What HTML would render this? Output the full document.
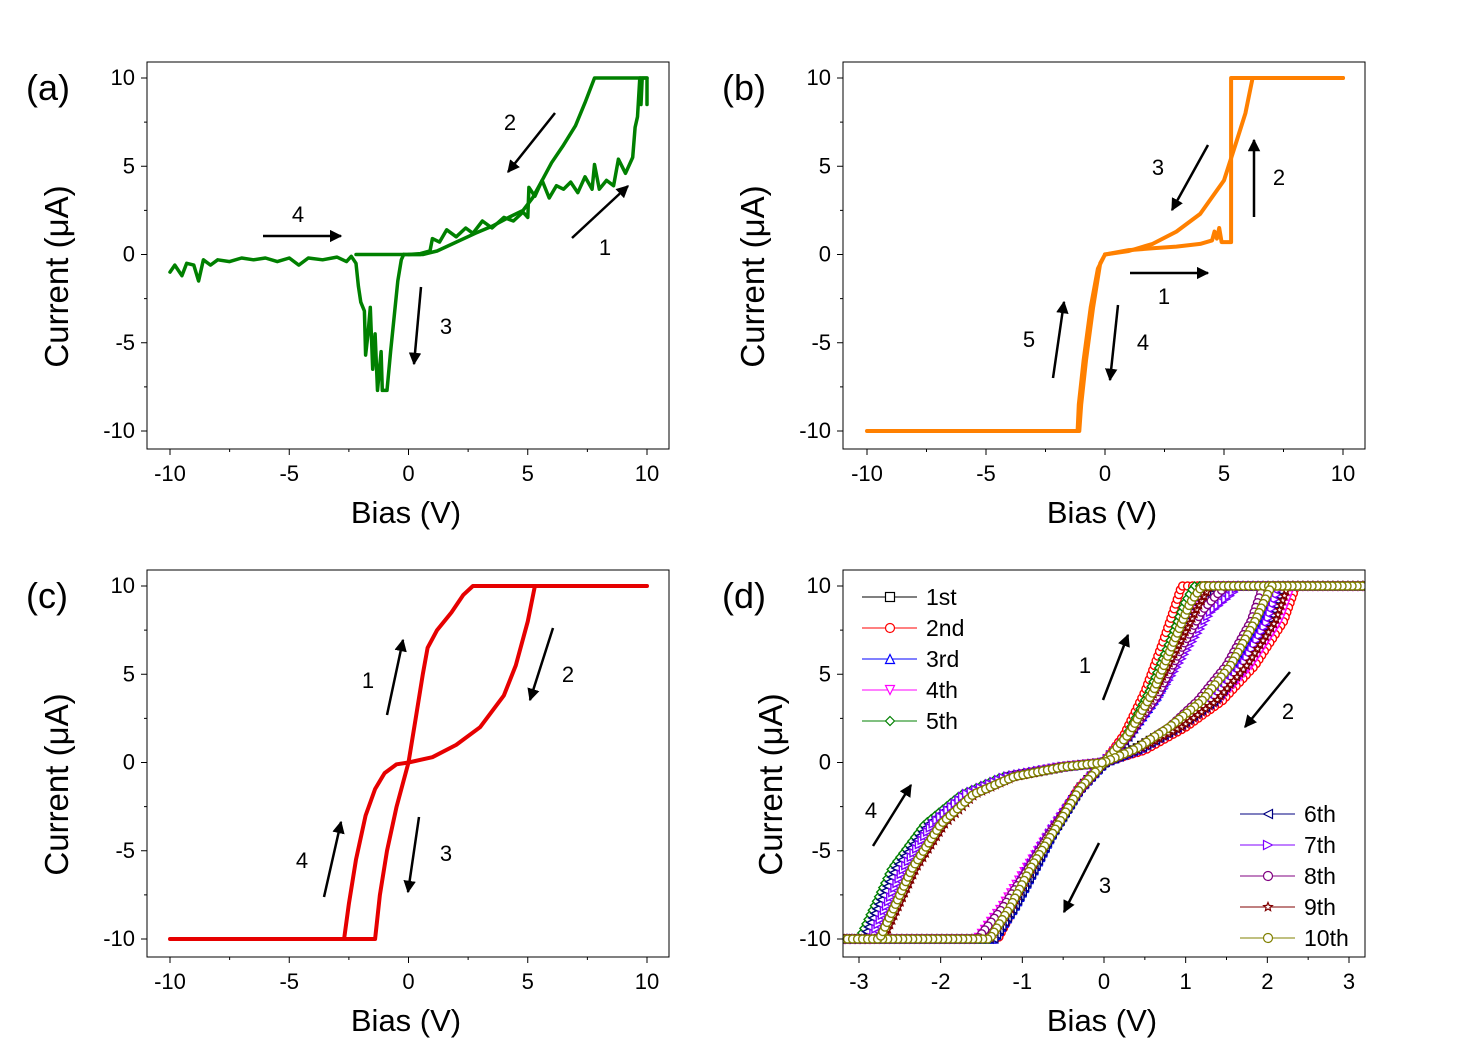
<!DOCTYPE html>
<html><head><meta charset="utf-8"><style>
html,body{margin:0;padding:0;background:#fff;}
svg{display:block;font-family:"Liberation Sans",Arial,sans-serif;}
</style></head><body>
<svg id="fig" width="1475" height="1050" viewBox="0 0 1475 1050" xmlns="http://www.w3.org/2000/svg">
<defs><marker id="ah" viewBox="0 0 10 10" refX="9" refY="5" markerWidth="5" markerHeight="5" orient="auto"><path d="M0,0 L10,5 L0,10 z" fill="#000"/></marker></defs>
</svg>
<script>
// ---------- data ----------
const majorTicksABC = [-10,-5,0,5,10];
const yTicks = [-10,-5,0,5,10];
const majorTicksD = [-3,-2,-1,0,1,2,3];
// panel a
const aBranch1 = [[0,0],[0.5,0.05],[0.9,0.2],[1.0,0.9],[1.3,0.7],[1.6,1.4],[2,1.0],[2.4,1.5],[2.7,1.2],[3.1,1.9],[3.5,1.5],[4,2.1],[4.4,1.9],[4.8,2.4],[5.0,2.1],[5.05,3.8],[5.3,3.3],[5.6,4.2],[5.9,3.2],[6.2,3.9],[6.5,3.7],[6.8,4.1],[7.1,3.5],[7.4,4.4],[7.7,3.7],[7.8,5.1],[8.0,3.7],[8.3,4.2],[8.6,3.9],[8.8,5.4],[9.1,4.6],[9.4,5.5],[9.5,7.2],[9.6,7.8],[9.7,10],[9.75,10],[9.75,8.5],[9.8,10],[10,10],[10,8.5]];
const aBranch2 = [[10,10],[7.8,10],[7.4,8.6],[7,7.3],[6.5,6.2],[6,5.2],[5.6,4.2],[5.2,3.2],[4.8,2.5],[4.2,2.1],[3.5,1.6],[2.8,1.2],[2,0.7],[1.2,0.2],[0.6,0],[0,0],[-0.2,0]];
const aBranch3 = [[-0.2,0],[-0.3,-0.3],[-0.45,-1.5],[-0.6,-3.5],[-0.75,-5.5],[-0.9,-7.7],[-1.1,-7.7],[-1.15,-5.5],[-1.3,-7.7],[-1.4,-4.5],[-1.5,-6.5],[-1.6,-3.0],[-1.7,-4.5],[-1.8,-5.7],[-1.85,-3.2],[-2.0,-2.7],[-2.1,-1.8],[-2.2,-0.5],[-2.4,-0.1],[-2.6,-0.4],[-3,-0.15],[-3.6,-0.3],[-4.2,-0.2],[-4.6,-0.6],[-5,-0.2],[-5.5,-0.4],[-6,-0.2],[-6.5,-0.3],[-7,-0.2],[-7.5,-0.4],[-8,-0.3],[-8.3,-0.6],[-8.6,-0.3],[-8.8,-1.5],[-9,-0.6],[-9.3,-0.5],[-9.5,-1.2],[-9.8,-0.6],[-10,-1.0]];
const aBranch4 = [[-2.2,0],[0.5,0],[0.9,0.2]];
// panel b
const bForward = [[0,0],[1,0.25],[2,0.35],[3,0.45],[4,0.6],[4.5,0.8],[4.6,1.3],[4.7,0.9],[4.8,1.5],[4.9,0.7],[5.3,0.7],[5.3,10],[10,10]];
const bReturn = [[10,10],[6.2,10],[5.9,8],[5.5,6.3],[5,4.2],[4,2.3],[3,1.3],[2,0.6],[1,0.2],[0,0]];
const bNeg = [[0,0],[-0.2,-0.5],[-0.5,-3],[-0.8,-6],[-1.0,-8.5],[-1.08,-10],[-10,-10],[-1.15,-10],[-1.1,-8.5],[-0.9,-6],[-0.6,-3],[-0.3,-0.8],[0,0]];
// panel c
const cForward = [[0,0],[0.3,2.5],[0.6,5],[0.8,6.5],[1.2,7.5],[1.8,8.5],[2.3,9.5],[2.7,10],[10,10]];
const cReturn = [[5.3,10],[5,8],[4.5,5.5],[4,3.8],[3,2],[2,1],[1,0.3],[0,0]];
const cNeg = [[0,0],[-0.5,-2.5],[-0.9,-5],[-1.2,-7.5],[-1.4,-10],[-10,-10],[-2.7,-10],[-2.5,-8],[-2.2,-5.5],[-1.8,-3],[-1.4,-1.5],[-1,-0.6],[-0.5,-0.1],[0,0]];
// panel d cycles
const cycleNames = ["1st","2nd","3rd","4th","5th","6th","7th","8th","9th","10th"];
const cycle1 = [[0,0],[0.3,1.6],[0.6,4],[0.85,6.8],[1.05,9],[1.2,10],[3.2,10],[2.1,10],[1.9,8],[1.6,5.5],[1.25,3.5],[0.85,2],[0.4,0.8],[0,0],[-0.3,-1.5],[-0.6,-3.8],[-0.9,-6],[-1.15,-8.2],[-1.4,-10],[-3.2,-10],[-2.8,-10],[-2.65,-8.5],[-2.4,-6],[-2.05,-3.5],[-1.65,-1.8],[-1.15,-0.8],[-0.5,-0.25],[0,0]];
const cycle2 = [[0,0],[0.25,1.6],[0.5,4],[0.72,6.8],[0.88,9],[0.95,10],[3.2,10],[2.35,10],[2.2,8],[1.85,5.5],[1.45,3.5],[1.0,2],[0.5,0.7],[0,0],[-0.3,-1.4],[-0.6,-3.6],[-0.85,-6],[-1.1,-8.2],[-1.3,-10],[-3.2,-10],[-2.85,-10],[-2.7,-8.5],[-2.45,-6],[-2.1,-3.5],[-1.7,-1.8],[-1.2,-0.8],[-0.55,-0.25],[0,0]];
const cycle3 = [[0,0],[0.3,1.5],[0.65,3.8],[0.95,6.5],[1.25,8.8],[1.5,9.6],[1.6,10],[3.2,10],[2.1,10],[1.95,8],[1.65,5.5],[1.3,3.5],[0.9,2],[0.45,0.8],[0,0],[-0.3,-1.5],[-0.6,-3.7],[-0.85,-6],[-1.1,-8.2],[-1.35,-10],[-3.2,-10],[-2.9,-10],[-2.75,-8.5],[-2.5,-6],[-2.1,-3.5],[-1.7,-1.8],[-1.2,-0.8],[-0.55,-0.25],[0,0]];
const cycle4 = [[0,0],[0.3,1.5],[0.6,3.8],[0.9,6.5],[1.15,8.8],[1.3,10],[3.2,10],[2.3,10],[2.15,8],[1.8,5.5],[1.4,3.5],[0.95,2],[0.45,0.7],[0,0],[-0.3,-1.6],[-0.65,-3.9],[-0.95,-6],[-1.25,-8.2],[-1.55,-10],[-3.2,-10],[-2.8,-10],[-2.65,-8.5],[-2.4,-6],[-2.05,-3.5],[-1.65,-1.8],[-1.15,-0.8],[-0.5,-0.25],[0,0]];
const cycle5 = [[0,0],[0.28,1.6],[0.55,4],[0.8,6.8],[0.98,9],[1.1,10],[3.2,10],[2.0,10],[1.85,8],[1.55,5.5],[1.2,3.5],[0.85,2],[0.4,0.8],[0,0],[-0.3,-1.5],[-0.6,-3.7],[-0.9,-6],[-1.15,-8.2],[-1.4,-10],[-3.2,-10],[-3.0,-10],[-2.85,-8.5],[-2.6,-6],[-2.2,-3.5],[-1.75,-1.8],[-1.25,-0.8],[-0.55,-0.25],[0,0]];
const cycle6 = [[0,0],[0.3,1.5],[0.6,3.8],[0.9,6.5],[1.15,8.8],[1.3,10],[3.2,10],[2.2,10],[2.05,8],[1.7,5.5],[1.35,3.5],[0.9,2],[0.45,0.8],[0,0],[-0.3,-1.5],[-0.6,-3.7],[-0.85,-6],[-1.1,-8.2],[-1.35,-10],[-3.2,-10],[-2.95,-10],[-2.8,-8.5],[-2.55,-6],[-2.15,-3.5],[-1.72,-1.8],[-1.22,-0.8],[-0.55,-0.25],[0,0]];
const cycle7 = [[0,0],[0.3,1.4],[0.65,3.6],[1.0,6.3],[1.3,8.5],[1.55,9.5],[1.65,10],[3.2,10],[2.15,10],[2.0,8],[1.7,5.5],[1.32,3.5],[0.9,2],[0.45,0.8],[0,0],[-0.3,-1.6],[-0.65,-3.9],[-0.95,-6.2],[-1.2,-8.3],[-1.5,-10],[-3.2,-10],[-2.85,-10],[-2.7,-8.5],[-2.45,-6],[-2.1,-3.5],[-1.7,-1.8],[-1.2,-0.8],[-0.55,-0.25],[0,0]];
const cycle8 = [[0,0],[0.3,1.5],[0.65,3.8],[0.95,6.5],[1.2,8.6],[1.4,9.6],[1.5,10],[3.2,10],[1.95,10],[1.8,8],[1.5,5.5],[1.15,3.5],[0.8,2],[0.4,0.8],[0,0],[-0.3,-1.6],[-0.65,-3.9],[-0.95,-6.2],[-1.25,-8.3],[-1.55,-10],[-3.2,-10],[-2.75,-10],[-2.6,-8.5],[-2.35,-6],[-2.0,-3.5],[-1.6,-1.8],[-1.1,-0.8],[-0.5,-0.25],[0,0]];
const cycle9 = [[0,0],[0.3,1.5],[0.6,3.8],[0.9,6.5],[1.15,8.8],[1.3,10],[3.2,10],[2.25,10],[2.1,8],[1.75,5.5],[1.38,3.5],[0.95,2],[0.45,0.8],[0,0],[-0.3,-1.5],[-0.6,-3.7],[-0.88,-6],[-1.13,-8.2],[-1.4,-10],[-3.2,-10],[-2.7,-10],[-2.55,-8.5],[-2.3,-6],[-1.95,-3.5],[-1.58,-1.8],[-1.1,-0.8],[-0.5,-0.25],[0,0]];
const cycle10 = [[0,0],[0.3,1.6],[0.6,4],[0.85,6.8],[1.05,9],[1.2,10],[3.2,10],[2.05,10],[1.85,8],[1.55,5.5],[1.2,3.5],[0.8,2],[0.4,0.8],[0,0],[-0.3,-1.5],[-0.6,-3.8],[-0.9,-6],[-1.15,-8.2],[-1.4,-10],[-3.2,-10],[-2.75,-10],[-2.6,-8.5],[-2.35,-6],[-2.0,-3.5],[-1.6,-1.8],[-1.1,-0.8],[-0.5,-0.25],[0,0]];
const cycles = [cycle1,cycle2,cycle3,cycle4,cycle5,cycle6,cycle7,cycle8,cycle9,cycle10];

// ---------- rendering ----------
const NS="http://www.w3.org/2000/svg";
const svg=document.getElementById('fig');
function el(tag,attrs,parent){const e=document.createElementNS(NS,tag);for(const k in attrs)e.setAttribute(k,attrs[k]);(parent||svg).appendChild(e);return e;}
function mk(x0,x1,v0,v1){return v=>x0+(v-v0)*(x1-x0)/(v1-v0);}

const colors=["#000000","#ff0000","#0000ff","#ff00ff","#008000","#000080","#8000ff","#800080","#800000","#808000"];
const shapes=["square","circle","up","down","diamond","left","right","circle","star","circle"];

function panel(cfg){
  const g=el('g',{});
  
  
  cfg.sx=mk(cfg.px0,cfg.px1,cfg.xv0,cfg.xv1);
  cfg.sy=mk(cfg.py0,cfg.py1,-10,10);
  cfg.g=g;
  const clip=el('clipPath',{id:'clip-'+cfg.id},g);
  el('rect',{x:cfg.L,y:cfg.T,width:cfg.R-cfg.L,height:cfg.B-cfg.T},clip);
  cfg.plot=el('g',{'clip-path':'url(#clip-'+cfg.id+')'},g);
  
  
  return cfg;
}
function frame(cfg){
  const g=cfg.g;
  const r=el('rect',{x:cfg.L,y:cfg.T,width:cfg.R-cfg.L,height:cfg.B-cfg.T,fill:'none',stroke:'#000','stroke-width':1},g);
  
  
  const xa=el('g',{},g);
  
  
  cfg.xticks.forEach(v=>{
    const x=cfg.sx(v);
    el('line',{x1:x,x2:x,y1:cfg.B,y2:cfg.B+6,stroke:'#000','stroke-width':1},xa);
    const t=el('text',{x:x,y:cfg.B+32,'font-size':22,'text-anchor':'middle'},xa);
    t.textContent=v<0?'-'+Math.abs(v):String(v);
    
    
  });
  for(let i=0;i<cfg.xticks.length-1;i++){const x=cfg.sx((cfg.xticks[i]+cfg.xticks[i+1])/2);el('line',{x1:x,x2:x,y1:cfg.B,y2:cfg.B+3,stroke:'#000'},xa);}
  const ya=el('g',{},g);
  
  
  yTicks.forEach(v=>{
    const y=cfg.sy(v);
    el('line',{x1:cfg.L-6,x2:cfg.L,y1:y,y2:y,stroke:'#000'},ya);
    const t=el('text',{x:cfg.L-12,y:y+7,'font-size':22,'text-anchor':'end'},ya);
    t.textContent=v<0?'-'+Math.abs(v):String(v);
    
    
  });
  for(let i=0;i<yTicks.length-1;i++){const y=cfg.sy((yTicks[i]+yTicks[i+1])/2);el('line',{x1:cfg.L-3,x2:cfg.L,y1:y,y2:y,stroke:'#000'},ya);}
  const xt=el('text',{x:(cfg.L+cfg.R)/2-2,y:cfg.B+74,'font-size':31,'text-anchor':'middle'},g);
  xt.textContent='Bias (V)';
  
  
  const cy=(cfg.T+cfg.B)/2+21;
  const yt=el('text',{x:0,y:0,'font-size':33,'text-anchor':'middle',transform:`translate(${cfg.ytx},${cy}) rotate(-90)`},g);
  yt.textContent='Current (μA)';
  
  
  const pl=el('text',{x:cfg.L-121,y:cfg.T+38,'font-size':36},g);
  pl.textContent='('+cfg.id+')';
  
  
}
function curve(cfg,pts,color,w,name){
  const d=pts.map((p,i)=>(i?'L':'M')+cfg.sx(p[0]).toFixed(1)+','+cfg.sy(p[1]).toFixed(1)).join(' ');
  const p=el('path',{d:d,fill:'none',stroke:color,'stroke-width':w,'stroke-linejoin':'round','stroke-linecap':'round'},cfg.plot);
  
  
  return p;
}
function marker(parent,x,y,shape,color,s,sw){
  let m;
  const a={fill:'#fff',stroke:color,'stroke-width':sw||1};
  if(shape==='square') m=el('rect',Object.assign({x:x-s,y:y-s,width:2*s,height:2*s},a),parent);
  else if(shape==='circle') m=el('circle',Object.assign({cx:x,cy:y,r:s},a),parent);
  else {
    let pts;
    if(shape==='up') pts=[[0,-s],[s,s],[-s,s]];
    else if(shape==='down') pts=[[0,s],[s,-s],[-s,-s]];
    else if(shape==='left') pts=[[-s,0],[s,-s],[s,s]];
    else if(shape==='right') pts=[[s,0],[-s,-s],[-s,s]];
    else if(shape==='diamond') pts=[[0,-s],[s,0],[0,s],[-s,0]];
    else { pts=[];for(let i=0;i<10;i++){const r=i%2?s*0.45:s;const ang=-Math.PI/2+i*Math.PI/5;pts.push([r*Math.cos(ang),r*Math.sin(ang)]);} }
    m=el('polygon',Object.assign({points:pts.map(p=>(x+p[0]).toFixed(1)+','+(y+p[1]).toFixed(1)).join(' ')},a),parent);
  }
  return m;
}
function arrow(g,x1,y1,x2,y2,label,lx,ly){
  const l=el('line',{x1:x1,y1:y1,x2:x2,y2:y2,stroke:'#000','stroke-width':2.5,'marker-end':'url(#ah)'},g);
  
  
  const t=el('text',{x:lx,y:ly,'font-size':22,'text-anchor':'middle'},g);
  t.textContent=label;
  
  
}

// Panel a
const A=panel({id:'a',L:147,R:669,T:62,B:449,px0:170,px1:647,xv0:-10,xv1:10,py0:431,py1:78,xticks:majorTicksABC,ytx:68});
curve(A,aBranch4,'#008000',3.5,'curve-a-zero');
curve(A,aBranch3,'#008000',3.5,'curve-a-negative');
curve(A,aBranch2,'#008000',3.5,'curve-a-return');
curve(A,aBranch1,'#008000',3.5,'curve-a-forward');
frame(A);
arrow(A.g,572,238,628,186,'1',605,255);
arrow(A.g,555,113,508,172,'2',510,130);
arrow(A.g,421,287,414,364,'3',446,334);
arrow(A.g,263,236,341,236,'4',298,222);

// Panel b
const B=panel({id:'b',L:843,R:1365,T:62,B:449,px0:867,px1:1343,xv0:-10,xv1:10,py0:431,py1:78,xticks:majorTicksABC,ytx:764});
curve(B,bNeg,'#ff8000',4,'curve-b-negative');
curve(B,bReturn,'#ff8000',4,'curve-b-return');
curve(B,bForward,'#ff8000',4,'curve-b-forward');
frame(B);
arrow(B.g,1130,273,1208,273,'1',1164,304);
arrow(B.g,1254,217,1254,140,'2',1279,185);
arrow(B.g,1208,145,1172,210,'3',1158,175);
arrow(B.g,1118,305,1110,380,'4',1143,350);
arrow(B.g,1053,378,1064,302,'5',1029,347);

// Panel c
const C=panel({id:'c',L:147,R:669,T:570,B:957,px0:170,px1:647,xv0:-10,xv1:10,py0:939,py1:586,xticks:majorTicksABC,ytx:68});
curve(C,cNeg,'#e60000',4,'curve-c-negative');
curve(C,cReturn,'#e60000',4,'curve-c-return');
curve(C,cForward,'#e60000',4,'curve-c-forward');
frame(C);
arrow(C.g,387,715,403,640,'1',368,688);
arrow(C.g,553,628,530,700,'2',568,682);
arrow(C.g,419,817,408,892,'3',446,861);
arrow(C.g,324,897,341,822,'4',302,868);

// Panel d
const D=panel({id:'d',L:843,R:1365,T:570,B:957,px0:859,px1:1349,xv0:-3,xv1:3,py0:939,py1:586,xticks:majorTicksD,ytx:782});
cycles.forEach((pts,ci)=>{
  const g=el('g',{},D.plot);
  
  
  const px=pts.map(p=>[D.sx(p[0]),D.sy(p[1])]);
  const d=px.map((p,i)=>(i?'L':'M')+p[0].toFixed(1)+','+p[1].toFixed(1)).join(' ');
  const pa=el('path',{d:d,fill:'none',stroke:colors[ci],'stroke-width':1.5},g);
  
  
  const step=5; let carry=0;
  for(let i=0;i<px.length-1;i++){
    const [x1,y1]=px[i],[x2,y2]=px[i+1];
    const len=Math.hypot(x2-x1,y2-y1);
    let t=carry;
    while(t<len){
      const m=marker(g,x1+(x2-x1)*t/len,y1+(y2-y1)*t/len,shapes[ci],colors[ci],4,1.4);
      
      
      t+=step;
    }
    carry=t-len;
  }
});
frame(D);
arrow(D.g,1103,700,1128,635,'1',1085,673);
arrow(D.g,1290,672,1245,727,'2',1288,719);
arrow(D.g,1099,843,1064,912,'3',1105,893);
arrow(D.g,873,846,911,785,'4',871,818);
// legend
const lg=el('g',{},D.g);


cycleNames.forEach((n,i)=>{
  const left=i<5;
  const y=left?597+i*31:814+(i-5)*31;
  const x0=left?862:1240;
  const e=el('g',{},lg);
  
  
  el('line',{x1:x0,x2:x0+55,y1:y,y2:y,stroke:colors[i],'stroke-width':1},e);
  marker(e,x0+28,y,shapes[i],colors[i],4.5,1.2);
  const t=el('text',{x:x0+64,y:y+8,'font-size':23},e);
  t.textContent=n;
});
</script>
</body></html>
